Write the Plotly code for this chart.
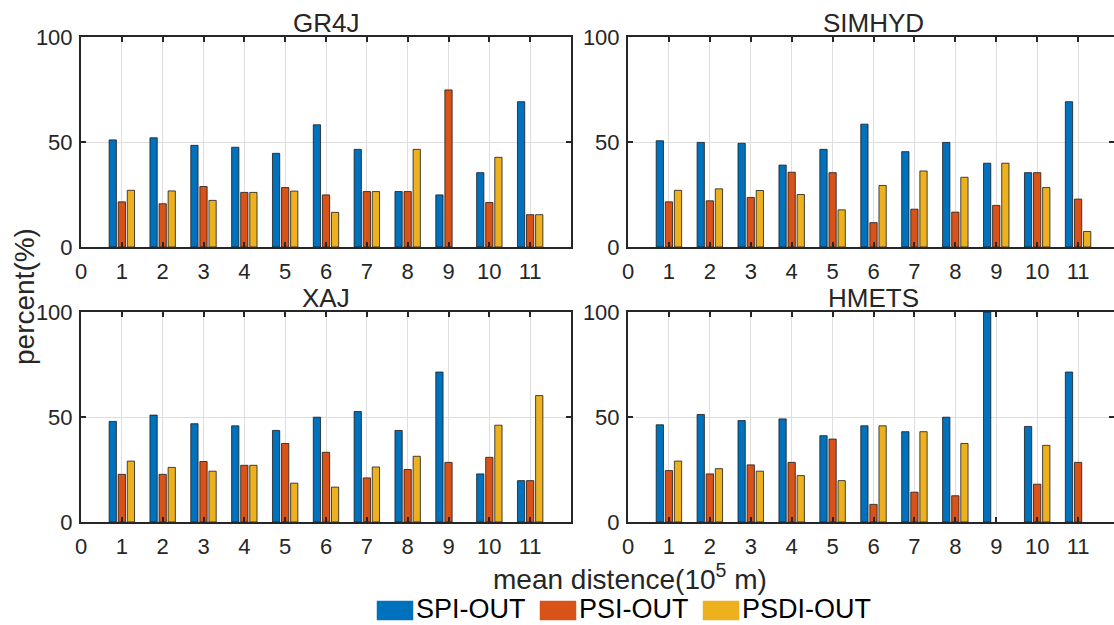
import plotly.graph_objects as go

# ---------------- data ----------------
distance = [1, 2, 3, 4, 5, 6, 7, 8, 9, 10, 11]
series_names = ["SPI-OUT", "PSI-OUT", "PSDI-OUT"]
series_colors = ["#0072BD", "#D95319", "#EDB120"]
panel_titles = ["GR4J", "SIMHYD", "XAJ", "HMETS"]
x_tick_vals = [0, 1, 2, 3, 4, 5, 6, 7, 8, 9, 10, 11]
y_tick_vals = [0, 50, 100]

gr4j_spi = [51.0, 52.0, 48.4, 47.5, 44.6, 58.2, 46.5, 26.4, 24.8, 35.4, 69.2]
gr4j_psi = [21.5, 20.6, 28.8, 26.0, 28.3, 24.8, 26.4, 26.4, 74.8, 21.2, 15.4]
gr4j_psdi = [27.0, 26.7, 22.2, 26.0, 26.6, 16.5, 26.4, 46.5, 0.0, 42.7, 15.4]

simhyd_spi = [50.6, 49.8, 49.4, 39.0, 46.5, 58.5, 45.4, 49.8, 39.9, 35.4, 69.2]
simhyd_psi = [21.5, 22.0, 23.6, 35.6, 35.4, 11.6, 18.0, 16.6, 19.8, 35.4, 22.8]
simhyd_psdi = [27.0, 27.7, 26.9, 25.0, 17.7, 29.3, 36.2, 33.2, 39.9, 28.3, 7.4]

xaj_spi = [47.9, 50.9, 46.8, 45.8, 43.6, 49.9, 52.6, 43.6, 71.4, 22.9, 19.7]
xaj_psi = [22.7, 22.7, 28.8, 27.0, 37.4, 33.2, 21.0, 25.0, 28.4, 30.8, 19.7]
xaj_psdi = [29.0, 26.0, 24.2, 27.0, 18.5, 16.6, 26.2, 31.3, 0.0, 46.1, 60.2]

hmets_spi = [46.3, 51.2, 48.3, 49.1, 41.1, 45.8, 43.0, 49.9, 100.0, 45.5, 71.4]
hmets_psi = [24.5, 22.9, 27.2, 28.4, 39.5, 8.4, 14.2, 12.5, 0.0, 18.0, 28.4]
hmets_psdi = [29.0, 25.4, 24.2, 22.1, 19.7, 45.8, 43.0, 37.4, 0.0, 36.5, 0.0]

panels = [
    [gr4j_spi, gr4j_psi, gr4j_psdi],
    [simhyd_spi, simhyd_psi, simhyd_psdi],
    [xaj_spi, xaj_psi, xaj_psdi],
    [hmets_spi, hmets_psi, hmets_psdi],
]

# ---------------- layout helpers ----------------
W, H = 1114, 625
FONT = "Liberation Sans, Arial, sans-serif"
TXT = "#262626"

def px(x):
    return x / W

def py(y):
    return 1 - y / H

left_dom = [px(81), px(571)]
right_dom = [px(628), 1.0]
right_range_max = 12 * (W - 628) / (1119 - 628)
top_dom = [py(247), py(37)]
bot_dom = [py(522), py(312)]

doms = [
    (left_dom, top_dom, 12),
    (right_dom, top_dom, right_range_max),
    (left_dom, bot_dom, 12),
    (right_dom, bot_dom, right_range_max),
]

fig = go.Figure()
layout = dict(
    width=W, height=H,
    margin=dict(l=0, r=0, t=0, b=0, pad=0, autoexpand=False),
    paper_bgcolor="white", plot_bgcolor="white",
    barmode="group", bargap=1 - 2 / 3, bargroupgap=0.2,
    showlegend=False,
    font=dict(family=FONT, color=TXT),
)

for i, (vals, (xd, yd, xmax)) in enumerate(zip(panels, doms)):
    n = i + 1
    xa = "x" if n == 1 else f"x{n}"
    ya = "y" if n == 1 else f"y{n}"
    for s, (name, col) in enumerate(zip(series_names, series_colors)):
        # zero-height bars are not drawn (as in the reference)
        yv = [v if v > 0 else None for v in vals[s]]
        fig.add_trace(go.Bar(
            x=distance, y=yv, name=name,
            marker=dict(color=col, line=dict(color="#1a1a1a", width=0.8)),
            xaxis=xa, yaxis=ya, showlegend=False,
            offsetgroup=str(s),
        ))
    axis_common = dict(
        showline=True, linecolor=TXT, linewidth=2, mirror="allticks",
        ticks="inside", ticklen=5, tickwidth=1.5, tickcolor=TXT,
        showgrid=True, gridcolor="#dedede", gridwidth=1,
        zeroline=False, automargin=False,
        tickfont=dict(family=FONT, size=22, color=TXT),
    )
    layout["xaxis" if n == 1 else f"xaxis{n}"] = dict(
        axis_common, domain=xd, range=[0, xmax], anchor=ya,
        tickmode="array", tickvals=x_tick_vals,
        ticklabelstandoff=4,
    )
    layout["yaxis" if n == 1 else f"yaxis{n}"] = dict(
        axis_common, domain=yd, range=[0, 100], anchor=xa,
        tickmode="array", tickvals=y_tick_vals,
        ticklabelstandoff=2,
    )

annotations = []
title_pos = [(326, 23), (873, 23), (326, 298), (873, 298)]
for t, (tx, ty) in zip(panel_titles, title_pos):
    annotations.append(dict(
        text=t, x=px(tx), y=py(ty), xref="paper", yref="paper",
        showarrow=False, xanchor="center", yanchor="middle",
        font=dict(family=FONT, size=26, color=TXT),
    ))
annotations.append(dict(
    text="percent(%)", x=px(24), y=py(297), xref="paper", yref="paper",
    showarrow=False, textangle=-90, xanchor="center", yanchor="middle",
    font=dict(family=FONT, size=28, color=TXT),
))
annotations.append(dict(
    text="mean distence(10<sup>5</sup> m)", x=px(630), y=py(577),
    xref="paper", yref="paper", showarrow=False,
    xanchor="center", yanchor="middle",
    font=dict(family=FONT, size=28, color=TXT),
))

# custom legend
shapes = []
leg_x = [377, 540, 703]
for name, col, lx in zip(series_names, series_colors, leg_x):
    shapes.append(dict(
        type="rect", xref="paper", yref="paper",
        x0=px(lx), x1=px(lx + 36), y0=py(620), y1=py(601),
        fillcolor=col, line=dict(color=col, width=0.5),
    ))
    annotations.append(dict(
        text=name, x=px(lx + 37), y=py(609), xref="paper", yref="paper",
        showarrow=False, xanchor="left", yanchor="middle",
        font=dict(family=FONT, size=27, color="#000000"),
    ))

layout["annotations"] = annotations
layout["shapes"] = shapes
fig.update_layout(**layout)
fig.write_html("out.html")
